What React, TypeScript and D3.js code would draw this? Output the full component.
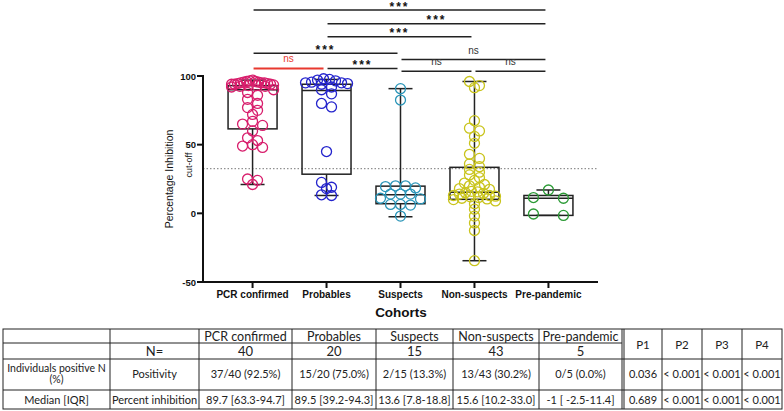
import * as d3 from 'd3';

// Cohort inhibition chart + summary table

const groups = ['PCR confirmed', 'Probables', 'Suspects', 'Non-suspects', 'Pre-pandemic'];
const colors = ['#d81e6c', '#2323cc', '#2a95b8', '#c9c41c', '#2b9a35'];

const pcrValues = [97, 96.5, 96, 96, 95.5, 95.5, 95, 95, 95, 94.5, 94.5, 94, 94, 94, 93.5, 93, 93, 92.5, 92, 90,
  88, 86, 83, 80, 77, 75, 72, 67, 65, 64, 60, 55, 53, 50, 49, 48, 25, 24, 21, 92.5];
const probableValues = [98, 97.5, 97, 96.5, 95.5, 95, 95, 94.5, 94, 92, 90, 87, 80, 77.5, 45, 22.5, 19, 18, 13.5, 13];
const suspectValues = [90.8, 82.5, 20, 20, 19.5, 18.5, 14, 14, 14, 11, 10.5, 6.5, 6, 6.5, -2];
const nonSuspectValues = [96, 93, 91.5, 67.5, 62, 60, 56, 51, 43, 40, 36, 34, 32, 30, 28, 26, 24, 22, 21, 20, 19, 18,
  17.5, 16, 15.6, 15, 14.5, 14, 13, 13, 12.5, 12, 11.5, 11, 10.5, 10, 9, 7, 3, -2, -7, -12.5, -34.5];
const prePandemicValues = [17, 11.5, 11, -1.5, -0.5];
const groupValues = [pcrValues, probableValues, suspectValues, nonSuspectValues, prePandemicValues];

// box stats as drawn in the figure
const boxMin = [21, 13, -2.5, -34.5, -1.5];
const boxQ1 = [61.5, 28.5, 7, 10.2, -1.5];
const boxMedian = [90, 89.5, 13.6, 15.4, 11];
const boxQ3 = [93, 94, 19.8, 33.5, 13];
const boxMax = [97, 97.5, 90.8, 96, 17];

const cutOff = 32.5;
const yTicks = [100, 50, 0, -50];

// significance brackets (level in y units)
const bracketFrom = [0, 1, 1, 0, 2, 0, 1, 2, 3];
const bracketTo = [4, 4, 3, 2, 4, 1, 2, 3, 4];
const bracketLabel = ['***', '***', '***', '***', 'ns', 'ns', '***', 'ns', 'ns'];
const bracketLevel = [148, 138, 128.5, 116.5, 112, 105.5, 105.5, 103.5, 103.5];
const bracketRed = [false, false, false, false, false, true, false, false, false];

// table
const headerRow = ['', '', 'PCR confirmed', 'Probables', 'Suspects', 'Non-suspects', 'Pre-pandemic'];
const nRow = ['', 'N=', '40', '20', '15', '43', '5'];
const positivityRow = ['', 'Positivity', '37/40 (92.5%)', '15/20 (75.0%)', '2/15 (13.3%)', '13/43 (30.2%)', '0/5 (0.0%)'];
const positivityLabel = ['Individuals positive N', '(%)'];
const medianRow = ['Median [IQR]', 'Percent inhibition', '89.7 [63.3-94.7]', '89.5 [39.2-94.3]', '13.6 [7.8-18.8]',
  '15.6 [10.2-33.0]', '-1 [ -2.5-11.4]'];
const pLabels = ['P1', 'P2', 'P3', 'P4'];
const positivityP = ['0.036', '< 0.001', '< 0.001', '< 0.001'];
const medianP = ['0.689', '< 0.001', '< 0.001', '< 0.001'];

const W = 784;
const H = 411;
const FONT = 'Liberation Sans, Arial, sans-serif';
const TFONT = 'Lato, Carlito, sans-serif';

// Prism-like column scatter: bin by pixel height, spread each bin sideways
function scatter(values: number[], cx: number, y: (v: number) => number, binH: number, gap: number, maxW: number) {
  const order = values.map((v, i) => ({ v, i, py: y(v) })).sort((a, b) => a.py - b.py);
  const out: { x: number; y: number }[] = new Array(values.length);
  let k = 0;
  while (k < order.length) {
    const start = order[k].py;
    const bin = [];
    while (k < order.length && order[k].py - start < binH) bin.push(order[k++]);
    const n = bin.length;
    const s = n > 1 ? Math.min(gap, maxW / (n - 1)) : 0;
    const slots = d3.range(n).map(j => (j - (n - 1) / 2) * s);
    const mid = (n - 1) / 2;
    const orderSlots = d3.range(n).sort((a, b) => Math.abs(a - mid) - Math.abs(b - mid) || a - b);
    bin.forEach((p, j) => {
      out[p.i] = { x: cx + slots[orderSlots[j]], y: p.py };
    });
  }
  return out;
}

export default function App() {
  const x = d3.scalePoint<string>().domain(groups).range([203, 598]).padding(0.67);
  const y = d3.scaleLinear().domain([-50, 100]).range([282, 76]);
  const boxW = 49;
  const capW = 24;
  const spread = [10, 10, 10, 10, 30];

  const cols = [3, 110, 199, 292, 376, 453, 539, 622, 662, 702, 742, 782];
  const rows = [329, 343, 359, 390, 409];
  const colMid = (i: number) => (cols[i] + cols[i + 1]) / 2;
  const rowMid = (i: number) => (rows[i] + rows[i + 1]) / 2;

  return (
    <>
      <style>{'body{margin:0}'}</style>
      <svg width={W} height={H} style={{ display: 'block', background: '#fff' }}>
        {/* significance brackets */}
        {bracketFrom.map((f, i) => {
          const x1 = x(groups[f])! + 1;
          const x2 = x(groups[bracketTo[i]])! - 3;
          const ly = y(bracketLevel[i]);
          const star = bracketLabel[i] === '***';
          const col = bracketRed[i] ? '#e8392f' : star ? '#111' : '#333';
          return (
            <g key={'b' + i}>
              <line x1={x1} x2={x2} y1={ly} y2={ly} stroke={bracketRed[i] ? '#e8392f' : '#222'}
                strokeWidth={bracketRed[i] ? 2 : 1.5} />
              <text x={(x1 + x2) / 2} y={star ? ly + 0.5 : ly - 6} textAnchor="middle" fill={col}
                fontFamily={FONT} fontSize={star ? 12 : 10} letterSpacing={star ? 2 : 0}
                fontWeight={star ? 'bold' : 'normal'}>{bracketLabel[i]}</text>
            </g>
          );
        })}

        {/* cut-off */}
        <line x1={203} x2={597} y1={y(cutOff)} y2={y(cutOff)} stroke="#777" strokeWidth={1} strokeDasharray="1.5,2" />

        {/* boxes */}
        {groups.map((g, i) => {
          const cx = x(g)!;
          return (
            <g key={'box' + i} stroke="#222" strokeWidth={1.5} fill="none">
              <line x1={cx} x2={cx} y1={y(boxMax[i])} y2={y(boxQ3[i])} />
              <line x1={cx} x2={cx} y1={y(boxQ1[i])} y2={y(boxMin[i])} />
              <line x1={cx - capW / 2} x2={cx + capW / 2} y1={y(boxMax[i])} y2={y(boxMax[i])} />
              <line x1={cx - capW / 2} x2={cx + capW / 2} y1={y(boxMin[i])} y2={y(boxMin[i])} />
              <rect x={cx - boxW / 2} y={y(boxQ3[i])} width={boxW} height={y(boxQ1[i]) - y(boxQ3[i])} />
              <line x1={cx - boxW / 2} x2={cx + boxW / 2} y1={y(boxMedian[i])} y2={y(boxMedian[i])} />
            </g>
          );
        })}

        {/* points */}
        {groups.map((g, i) => (
          <g key={'pts' + i} fill="none" stroke={colors[i]} strokeWidth={1.3}>
            {scatter(groupValues[i], x(g)!, y, 5, spread[i], 42).map((p, j) => (
              <circle key={j} cx={p.x} cy={p.y} r={5} />
            ))}
          </g>
        ))}

        {/* axes */}
        <line x1={203} x2={203} y1={y(100) - 1} y2={y(-50) + 1} stroke="#111" strokeWidth={2} />
        <line x1={202} x2={598} y1={y(-50)} y2={y(-50)} stroke="#111" strokeWidth={2} />
        {yTicks.map(t => (
          <g key={'yt' + t}>
            <line x1={197} x2={203} y1={y(t)} y2={y(t)} stroke="#111" strokeWidth={2} />
            <text x={196} y={y(t) + 3.5} textAnchor="end" fontFamily={FONT} fontSize={9.5} fontWeight="bold"
              fill="#111">{t}</text>
          </g>
        ))}
        {groups.map(g => (
          <g key={'xt' + g}>
            <line x1={x(g)} x2={x(g)} y1={y(-50)} y2={y(-50) + 6} stroke="#111" strokeWidth={2} />
            <text x={x(g)} y={298} textAnchor="middle" fontFamily={FONT} fontSize={10} fontWeight="bold"
              fill="#111">{g}</text>
          </g>
        ))}
        <text x={401} y={317} textAnchor="middle" fontFamily={FONT} fontSize={13.5} fontWeight="bold"
          fill="#111">Cohorts</text>
        <text transform="translate(173,179) rotate(-90)" textAnchor="middle" fontFamily={FONT} fontSize={10.5}
          fill="#111">Percentage Inhibition</text>
        <text transform="translate(192,165) rotate(-90)" textAnchor="middle" fontFamily={FONT} fontSize={9}
          fill="#111">cut-off</text>

        {/* table */}
        <g fontFamily={TFONT} fill="#222" textAnchor="middle">
          <rect x={cols[0]} y={rows[0]} width={cols[11] - cols[0]} height={rows[4] - rows[0]} fill="none"
            stroke="#222" strokeWidth={1} />
          {[1, 2, 3].map(r => (
            <line key={'hr' + r} x1={cols[0]} x2={cols[7]} y1={rows[r]} y2={rows[r]} stroke="#222" />
          ))}
          {[2, 3].map(r => (
            <line key={'hrp' + r} x1={cols[7]} x2={cols[11]} y1={rows[r]} y2={rows[r]} stroke="#222" />
          ))}
          {cols.slice(1, 11).map((c, i) => (
            <line key={'vc' + i} x1={c} x2={c} y1={rows[0]} y2={rows[4]} stroke="#222" />
          ))}
          <line x1={cols[7] + 2} x2={cols[7] + 2} y1={rows[0]} y2={rows[4]} stroke="#222" />
          {headerRow.map((t, i) => t && (
            <text key={'h' + i} x={colMid(i)} y={rowMid(0) + 4.5} fontSize={12.5}>{t}</text>
          ))}
          {nRow.map((t, i) => t && (
            <text key={'n' + i} x={colMid(i)} y={rowMid(1) + 4.5} fontSize={13}>{t}</text>
          ))}
          {positivityLabel.map((t, i) => (
            <text key={'pl' + i} x={colMid(0)} y={rows[2] + 12.5 + i * 11.5} fontSize={10.5}>{t}</text>
          ))}
          {positivityRow.map((t, i) => t && (
            <text key={'p' + i} x={colMid(i)} y={rowMid(2) + 3.5} fontSize={11}>{t}</text>
          ))}
          {medianRow.map((t, i) => (
            <text key={'m' + i} x={colMid(i)} y={rowMid(3) + 4} fontSize={11}>{t}</text>
          ))}
          {pLabels.map((t, i) => (
            <text key={'pp' + i} x={colMid(7 + i) + (i === 0 ? 1 : 0)} y={(rows[0] + rows[2]) / 2 + 4.5}
              fontSize={11.5}>{t}</text>
          ))}
          {positivityP.map((t, i) => (
            <text key={'ppv' + i} x={colMid(7 + i) + (i === 0 ? 1 : 0)} y={rowMid(2) + 3.5} fontSize={11}>{t}</text>
          ))}
          {medianP.map((t, i) => (
            <text key={'mpv' + i} x={colMid(7 + i) + (i === 0 ? 1 : 0)} y={rowMid(3) + 4} fontSize={11}>{t}</text>
          ))}
        </g>
      </svg>
    </>
  );
}
